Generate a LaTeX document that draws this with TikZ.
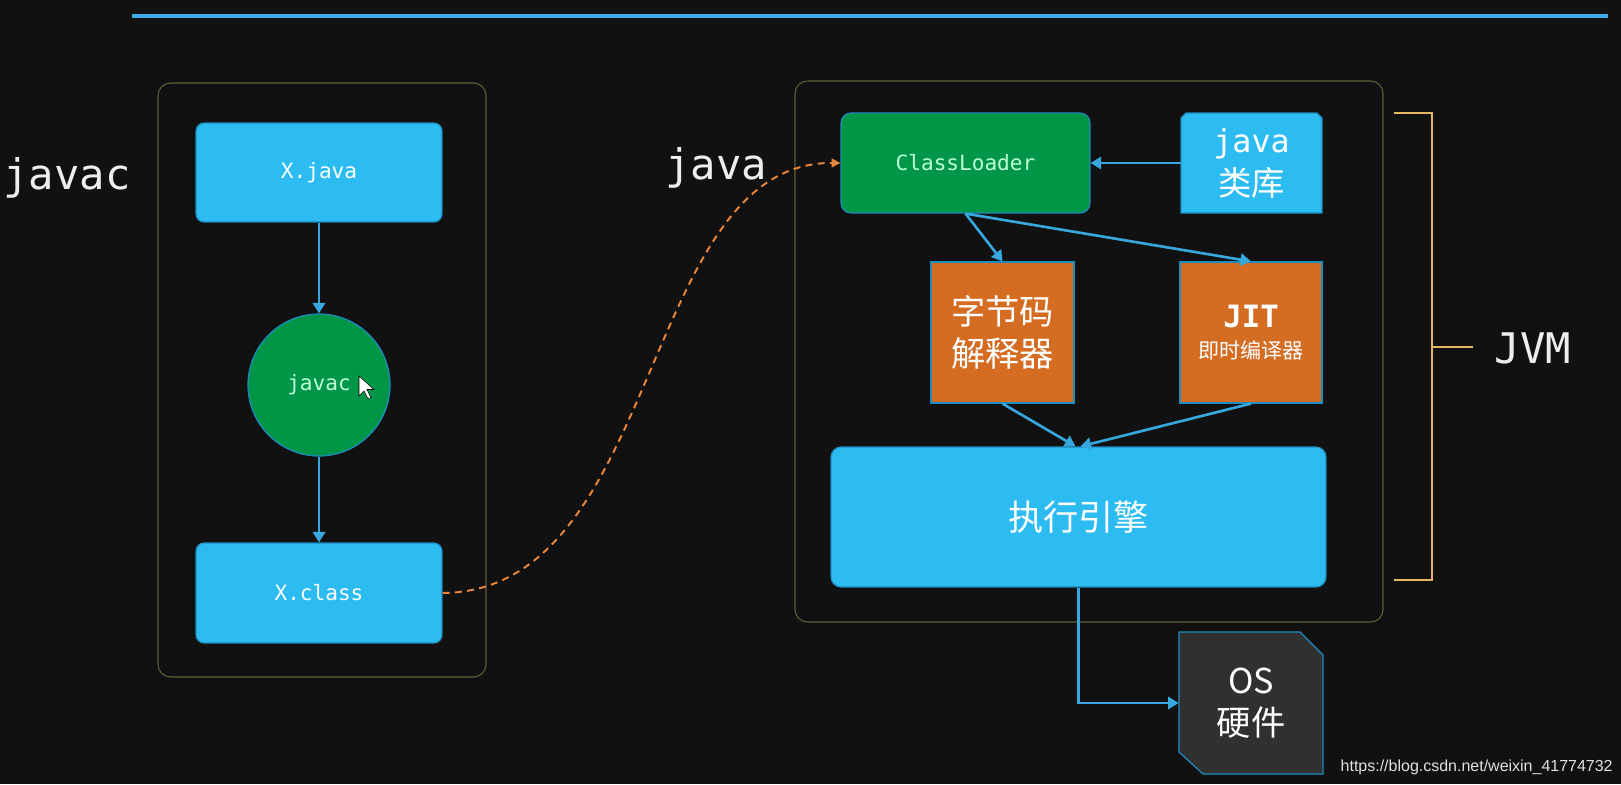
\documentclass[tikz,border=0pt]{standalone}
\usepackage{fontspec}
\setmainfont{Liberation Sans}
\setmonofont{DejaVu Sans Mono}
\newfontfamily\cjk{Noto Sans CJK SC}
\usetikzlibrary{arrows.meta}
\definecolor{bg}{RGB}{17,17,17}
\definecolor{sky}{RGB}{44,188,242}
\definecolor{skyedge}{RGB}{30,140,190}
\definecolor{leaf}{RGB}{0,150,72}
\definecolor{mint}{RGB}{190,255,215}
\definecolor{rust}{RGB}{212,108,34}
\definecolor{arrowblue}{RGB}{55,168,222}
\definecolor{dashorange}{RGB}{232,135,60}
\definecolor{framecol}{RGB}{100,95,55}
\definecolor{bracecol}{RGB}{228,182,95}
\definecolor{osgray}{RGB}{48,48,48}
\definecolor{labelwhite}{RGB}{238,238,238}
\definecolor{wmgray}{RGB}{225,225,225}
\definecolor{topblue}{RGB}{60,172,232}
\begin{document}
\begin{tikzpicture}[x=0.02cm,y=-0.02cm,
  box/.style={draw=skyedge,line width=0.7pt,inner sep=0pt,align=center},
  bluebox/.style={box,fill=sky,text=white},
  greenbox/.style={box,fill=leaf,text=mint},
  rustbox/.style={box,fill=rust,text=white},
  shapeonly/.style={inner sep=0pt,align=center,text=white},
  plate/.style={draw=skyedge,line width=0.7pt},
  container/.style={draw=framecol,line width=0.6pt,rounded corners=0.25cm},
  arr/.style={draw=arrowblue,line width=1.5pt,-{Triangle[length=6pt,width=7pt]}},
  dasharr/.style={draw=dashorange,line width=1.1pt,dash pattern=on 4pt off 3pt,-{Triangle[length=5pt,width=5pt]}},
  bracket/.style={draw=bracecol,line width=1pt},
  biglabel/.style={text=labelwhite,font=\fontsize{24}{28}\selectfont\ttfamily,inner sep=0pt},
  monosmall/.style={font=\fontsize{12}{14}\selectfont\ttfamily}
]
% background and frames
\fill[bg] (0,0) rectangle (1621,784);
\draw[topblue,line width=2.8pt] (132,16) -- (1608,16);
\draw[container] (158,83) rectangle (486,677);
\draw[container] (795,81) rectangle (1383,622);

% left column
\node[bluebox,monosmall,rounded corners=0.16cm,minimum width=4.92cm,minimum height=1.98cm] (xjava) at (319,172.5) {X.java};
\node[circle,fill=leaf,draw=skyedge,line width=0.7pt,minimum size=2.84cm,inner sep=0pt,text=mint,monosmall] (javac) at (319,385) {javac};
\node[bluebox,monosmall,rounded corners=0.16cm,minimum width=4.92cm,minimum height=2cm] (xclass) at (319,593) {X.class};
\fill[white,draw=black,line width=0.3pt] (359,376) -- ++(0,20) -- ++(5,-5) -- ++(4,8) -- ++(3,-1.5) -- ++(-4,-8) -- ++(7,0) -- cycle;

\node[biglabel,anchor=base] (lbljavac) at (67,189) {javac};
\node[biglabel,anchor=base] (lbljava) at (716,179) {java};
\node[biglabel,anchor=base] (lbljvm) at (1533,363) {JVM};

% right column
\node[greenbox,monosmall,rounded corners=0.2cm,minimum width=4.98cm,minimum height=2cm] (cl) at (965.5,163) {ClassLoader};

\fill[sky,plate] (1181,118) -- (1186,113) -- (1317,113) -- (1322,118) -- (1322,213) -- (1181,213) -- cycle;
\node[shapeonly,minimum width=2.82cm,minimum height=2cm,font=\fontsize{19}{24.5}\selectfont] (lib) at (1251.5,163) {{\fontsize{18}{24.5}\selectfont\ttfamily java}\\{\cjk 类库}};

\node[rustbox,minimum width=2.86cm,minimum height=2.82cm,font=\fontsize{19.5}{23.8}\selectfont\cjk] (interp) at (1002.5,332.5) {字节码\\解释器};
\node[rustbox,minimum width=2.84cm,minimum height=2.82cm,font=\fontsize{12}{17.7}\selectfont] (jit) at (1251,332.5) {{\fontsize{17.5}{20}\selectfont\ttfamily\bfseries JIT}\\{\cjk 即时编译器}};

\node[bluebox,rounded corners=0.2cm,minimum width=9.9cm,minimum height=2.8cm,font=\fontsize{20}{24}\selectfont\cjk] (engine) at (1078.5,517) {执行引擎};

\filldraw[fill=osgray,plate] (1179,632) -- (1300,632) -- (1323,655) -- (1323,774) -- (1203,774) -- (1179,752) -- cycle;
\node[shapeonly,minimum width=2.88cm,minimum height=2.84cm,font=\fontsize{19.5}{23.8}\selectfont\cjk] (os) at (1251,703) {OS\\硬件};

% bracket
\draw[bracket] (1394,113) -- (1432,113) -- (1432,580) -- (1394,580);
\draw[bracket] (1432,347) -- (1473,347);

% connectors
\draw[arr] (xjava.south) -- (javac.north);
\draw[arr] (javac.south) -- (xclass.north);
\draw[arr] (lib.west) -- (cl.east);
\draw[arr] (cl.south) -- (interp.north);
\draw[arr] (cl.south) -- (jit.north);
\draw[arr] (interp.south) -- ([xshift=-0.06cm]engine.north);
\draw[arr] (jit.south) -- ([xshift=0.04cm]engine.north);
\draw[arr] (engine.south) |- (os.west);
\draw[dasharr] (xclass.east) .. controls (662,591) and (640,162) .. (cl.west);

% watermark
\node[anchor=base east,inner sep=0pt,text=wmgray,font=\fontsize{9.1}{11}\selectfont] (wm) at (1613,771) {https://blog.csdn.net/weixin\_41774732};
\end{tikzpicture}
\end{document}
